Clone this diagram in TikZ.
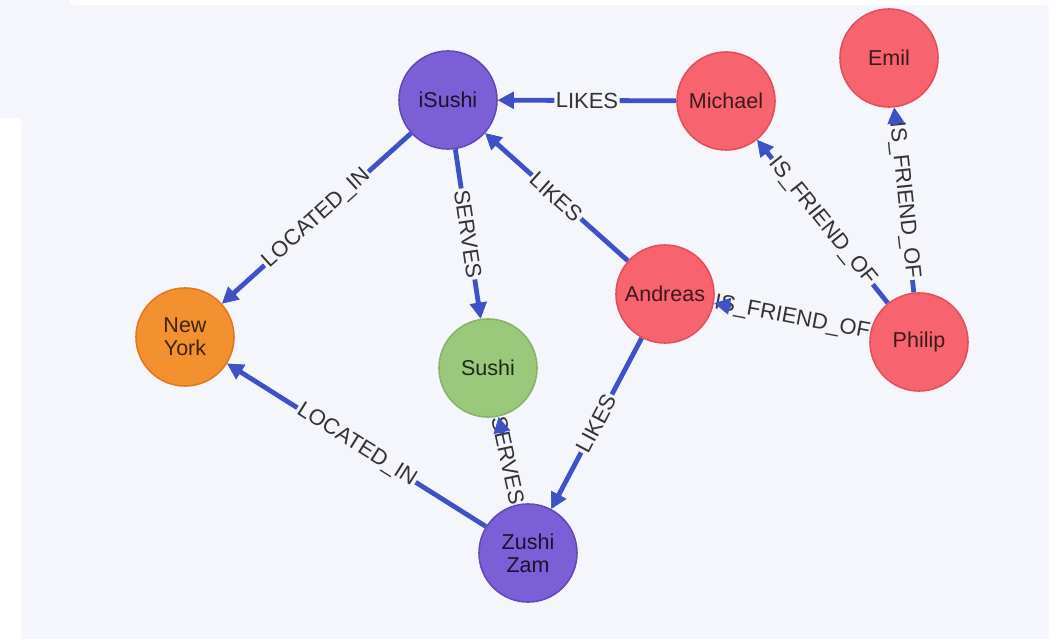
\documentclass[tikz,border=0pt]{standalone}
\usepackage{fontspec}
\setmainfont{Liberation Sans}
\usetikzlibrary{arrows.meta,calc}

\definecolor{panel}{HTML}{F5F6FC}
\definecolor{relblue}{HTML}{3E52C6}
\definecolor{venuefill}{HTML}{7B5FD6}
\definecolor{venueline}{HTML}{634AB8}
\definecolor{personfill}{HTML}{F7636F}
\definecolor{personline}{HTML}{E2505E}
\definecolor{cityfill}{HTML}{F39131}
\definecolor{cityline}{HTML}{DC7C1E}
\definecolor{dishfill}{HTML}{9BC97B}
\definecolor{dishline}{HTML}{86B468}
\definecolor{lbltext}{HTML}{333333}

\tikzset{
  gnode/.style={circle, minimum size=98pt, inner sep=0pt, line width=1.6pt,
    align=center, font=\fontsize{21.5}{23}\selectfont},
  venue/.style={gnode, fill=venuefill, draw=venueline, text=venuefill!20!black},
  person/.style={gnode, fill=personfill, draw=personline, text=personfill!25!black},
  city/.style={gnode, fill=cityfill, draw=cityline, text=cityfill!25!black},
  dish/.style={gnode, fill=dishfill, draw=dishline, text=dishfill!20!black},
  rel/.style={draw=relblue, line width=4.8pt,
    -{Triangle[length=16pt,width=16pt]}},
  rellabel/.style={fill=panel, inner sep=1.5pt, text=lbltext, sloped,
    font=\fontsize{22}{24}\selectfont}
}

\begin{document}
\begin{tikzpicture}[x=1pt,y=-1pt]
  \useasboundingbox (0,0) rectangle (1053,639);
  % canvas
  \fill[white] (0,0) rectangle (1053,639);
  \fill[panel] (0,0) rectangle (70,118);
  \fill[panel] (21,5) rectangle (1049,639);

  % node positions (drawn later, on top)
  \path[every node/.style={gnode}]
    (448,100) node (isushi) {}
    (726,101) node (michael) {}
    (889,58)  node (emil) {}
    (665,294) node (andreas) {}
    (919,342) node (philip) {}
    (185,337) node (newyork) {}
    (488,368) node (sushi) {}
    (528,553) node (zushizam) {};

  % relationships
  \foreach \a/\b in {michael/isushi, andreas/isushi, isushi/newyork,
      isushi/sushi, zushizam/newyork, zushizam/sushi, andreas/zushizam,
      philip/michael, philip/emil, philip/andreas}
    \draw[rel] (\a) -- (\b);

  % relationship labels
  \foreach \a/\b/\t in {michael/isushi/LIKES, andreas/isushi/LIKES,
      isushi/newyork/LOCATED\_IN, isushi/sushi/SERVES,
      zushizam/newyork/LOCATED\_IN, zushizam/sushi/SERVES,
      andreas/zushizam/LIKES, philip/michael/IS\_FRIEND\_OF,
      philip/emil/IS\_FRIEND\_OF, philip/andreas/IS\_FRIEND\_OF}
    \path (\a) -- (\b) node[rellabel, midway] {\t};

  % arrow tips stay above the labels
  \foreach \a/\b in {michael/isushi, andreas/isushi, isushi/newyork,
      isushi/sushi, zushizam/newyork, zushizam/sushi, andreas/zushizam,
      philip/michael, philip/emil, philip/andreas}
    \draw[rel] ($(\b.center)!67pt!(\a.center)$) -- (\b);

  % nodes
  \node[venue]  at (isushi)   {iSushi};
  \node[person] at (michael)  {Michael};
  \node[person] at (emil)     {Emil};
  \node[person] at (andreas)  {Andreas};
  \node[person] at (philip)   {Philip};
  \node[city]   at (newyork)  {New\\York};
  \node[dish]   at (sushi)    {Sushi};
  \node[venue]  at (zushizam) {Zushi\\Zam};
\end{tikzpicture}
\end{document}
